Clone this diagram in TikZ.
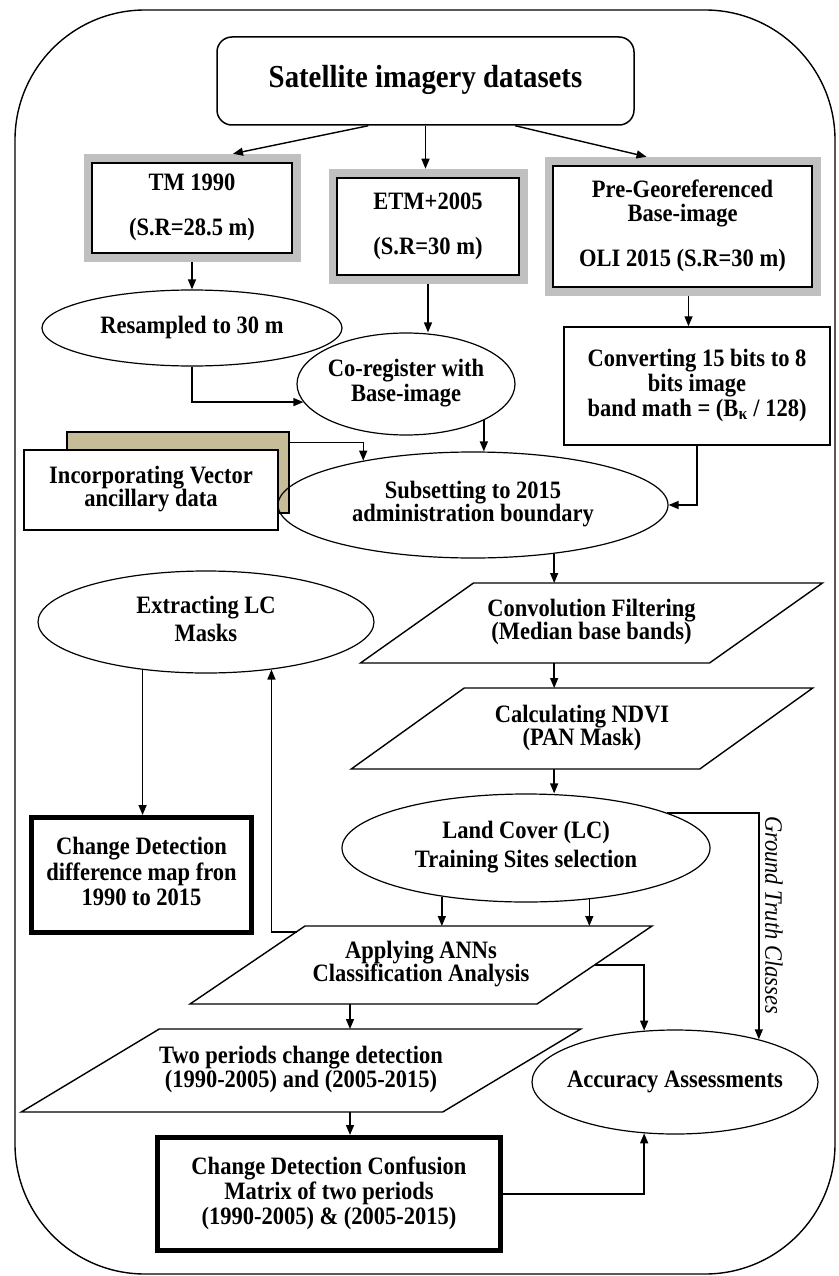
\documentclass[tikz,border=0pt]{standalone}
\usepackage{fontspec}
\setmainfont{Liberation Serif}[FakeStretch=0.9]
\usetikzlibrary{arrows.meta,shapes.geometric,calc}
\newcommand{\ZT}[1]{\makebox[0pt]{\begin{tabular}{@{}c@{}}#1\end{tabular}}}
\definecolor{framegray}{RGB}{192,192,192}
\definecolor{khakibox}{RGB}{198,189,152}
\begin{document}
\begin{tikzpicture}[x=1pt,y=-1pt,
  every node/.style={font=\fontsize{25}{25}\selectfont\bfseries, inner sep=0pt, text=black},
  line/.style={line width=1.4pt},
  arr/.style={line width=1.4pt, -{Triangle[length=10pt,width=8pt]}},
  ell/.style={ellipse, draw, line width=1.2pt},
  box/.style={rectangle, draw, line width=1.5pt, fill=white},
  grayframe/.style={box, preaction={draw=framegray, line width=17pt}},
  thickbox/.style={rectangle, draw, line width=5pt, fill=white},
  para/.style={rectangle, draw=none, outer sep=0pt},
]
\useasboundingbox (0,0) rectangle (838,1276);
\draw[line width=1.4pt, rounded corners=130pt] (15,10) rectangle (835,1274);

% nodes
\node[box, rounded corners=15pt, minimum width=417pt, minimum height=88pt,
      font=\fontsize{32}{34}\selectfont\bfseries] (title) at (425.5,81) {\ZT{Satellite imagery datasets}};
\node[grayframe, minimum width=200pt, minimum height=90pt] (tm) at (192,208) {\ZT{TM 1990\\[20pt](S.R=28.5 m)}};
\node[grayframe, minimum width=182pt, minimum height=97pt] (etm) at (428,226.5) {\ZT{ETM+2005\\[20pt](S.R=30 m)}};
\node[grayframe, minimum width=259pt, minimum height=121pt] (pre) at (682.5,226.5) {\ZT{Pre-Georeferenced\\[-1pt]Base-image\\[20pt]OLI 2015 (S.R=30 m)}};
\node[ell, minimum width=300pt, minimum height=76pt] (resamp) at (192,328) {\ZT{Resampled to 30 m}};
\node[ell, minimum width=218pt, minimum height=102pt] (coreg) at (406,384) {\ZT{Co-register with\\Base-image}};
\node[box, minimum width=266pt, minimum height=118pt] (convert) at (697,386) {\ZT{Converting 15 bits to 8\\bits image\\band math = (B\textsubscript{κ} / 128)}};
\node[rectangle, draw, line width=1.4pt, fill=khakibox, minimum width=222pt, minimum height=81pt] (back) at (178,472.5) {};
\node[box, minimum width=254pt, minimum height=80pt] (incorp) at (151,490) {\ZT{Incorporating Vector\\[-2pt]ancillary data}};
\node[ell, minimum width=390pt, minimum height=106pt] (subset) at (473,505) {\ZT{Subsetting to 2015\\[-2pt]administration boundary}};
\node[ell, minimum width=336pt, minimum height=102pt] (ext) at (206,622) {\ZT{Extracting LC\\[3pt]Masks}};
\node[para, minimum width=349pt, minimum height=80pt] (conv) at (591.5,623) {\ZT{Convolution Filtering\\[-2pt](Median base bands)}};
\node[para, minimum width=348.5pt, minimum height=81pt] (ndvi) at (582,728.5) {\ZT{Calculating NDVI\\[-2pt](PAN Mask)}};
\node[ell, minimum width=368pt, minimum height=108pt] (lc) at (526,848) {\ZT{Land Cover (LC)\\[4pt]Training Sites selection}};
\node[thickbox, minimum width=220pt, minimum height=115pt] (cdiff) at (141.5,875) {\ZT{Change Detection\\difference map fron\\1990 to 2015}};
\node[para, minimum width=347pt, minimum height=78pt] (anns) at (421,965) {\ZT{Applying ANNs\\[-2pt]Classification Analysis}};
\node[para, minimum width=421.5pt, minimum height=83pt] (two) at (301,1070.5) {\ZT{Two periods change detection\\[-1pt](1990-2005) and (2005-2015)}};
\node[ell, minimum width=286pt, minimum height=104pt] (acc) at (675,1082) {\ZT{Accuracy Assessments}};
\node[thickbox, minimum width=343pt, minimum height=113pt] (conf) at (329,1194) {\ZT{Change Detection Confusion\\Matrix of two periods\\(1990-2005) \& (2005-2015)}};
\node[font=\fontsize{25}{25}\selectfont\itshape, rotate=-90] (gt) at (774,915) {Ground Truth Classes};

% parallelograms
\draw[line] ($(conv.south west)+(-56.5,0)$) -- ($(conv.south east)+(-56.5,0)$) -- ($(conv.north east)+(56.5,0)$) -- ($(conv.north west)+(56.5,0)$) -- cycle;
\draw[line] ($(ndvi.south west)+(-56.5,0)$) -- ($(ndvi.south east)+(-56.5,0)$) -- ($(ndvi.north east)+(56.5,0)$) -- ($(ndvi.north west)+(56.5,0)$) -- cycle;
\draw[line] ($(anns.south west)+(-57.5,0)$) -- ($(anns.south east)+(-57.5,0)$) -- ($(anns.north east)+(57.5,0)$) -- ($(anns.north west)+(57.5,0)$) -- cycle;
\draw[line] ($(two.south west)+(-69,0)$) -- ($(two.south east)+(-69,0)$) -- ($(two.north east)+(69,0)$) -- ($(two.north west)+(69,0)$) -- cycle;

% connectors
\coordinate (c350) at (350,0);
\draw[arr] ($(title.south west)+(152,0)$) -- ($(tm.north)+(41,-8.5)$);
\draw[arr] (title.south) -- ($(title.south |- etm.north)+(0,-8.5)$);
\draw[arr] ($(title.south west)+(299,0)$) -- ($(pre.north)+(-36,-8.5)$);
\draw[arr] ($(tm.south)+(0,8.5)$) -- (resamp.north);
\draw[arr] ($(etm.south)+(0,8.5)$) -- (etm.south |- coreg.north);
\draw[arr] ($(pre.south)+(6,8.5)$) -- ($(pre.south |- convert.north)+(6,0)$);
\draw[arr] (resamp.south) |- (coreg.190);
\draw[arr] (coreg.-25) -- (coreg.-25 |- subset.north);
\draw[arr] ($(back.north east)+(0,11)$) -| (subset.158);
\draw[arr] (convert.south) |- (subset.east);
\draw[arr] (subset.-31) -- (subset.-31 |- conv.north);
\draw[arr] (subset.-31 |- conv.south) -- (subset.-31 |- ndvi.north);
\draw[arr] (subset.-31 |- ndvi.south) -- (subset.-31 |- lc.north);
\draw[arr] (lc.14) -| (acc.27);
\draw[arr] (lc.210) -- (lc.210 |- anns.north);
\draw[arr] (lc.-39) -- (lc.-39 |- anns.north);
\draw[arr] ($(anns.north west)+(49,6)$) -| (ext.-36);
\draw[arr] (ext.217) -- (ext.217 |- cdiff.north);
\draw[arr] (anns.east) -| (acc.121);
\draw[arr] (c350 |- anns.south) -- (c350 |- two.north);
\draw[arr] (c350 |- two.south) -- (c350 |- conf.north);
\draw[arr] (conf.east) -| (acc.239);
\end{tikzpicture}
\end{document}
